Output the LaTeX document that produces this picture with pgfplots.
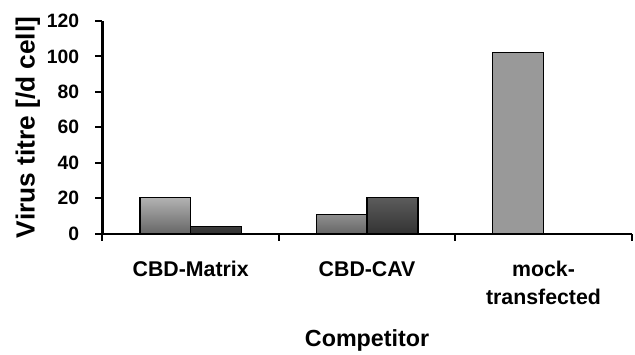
\documentclass[border=0pt]{standalone}
\usepackage{pgfplots}
\pgfplotsset{compat=1.18}
\usepackage{fontspec}
\setmainfont{Liberation Sans}
\definecolor{ltop}{gray}{0.70}
\definecolor{lbot}{gray}{0.40}
\definecolor{dtop}{gray}{0.36}
\definecolor{dbot}{gray}{0.20}
\definecolor{mockc}{gray}{0.60}
\begin{document}
\begin{tikzpicture}
\begin{axis}[
  name=ax,
  scale only axis, width=532bp, height=214bp,
  xmin=-0.5, xmax=2.5, ymin=0, ymax=120,
  axis lines=left, axis line style={line width=2.2pt, -},
  ytick={0,20,...,120},
  xtick={-0.5,0.5,1.5,2.5}, xticklabels={},
  extra x ticks={0,1,2},
  extra x tick labels={CBD-Matrix,CBD-CAV,{mock-\\transfected}},
  extra x tick style={major tick length=0pt},
  xticklabel style={align=center, font=\bfseries\fontsize{21.5}{28.5}\selectfont, yshift=-24bp},
  yticklabel style={font=\bfseries\fontsize{19.5}{22}\selectfont, xshift=-13bp},
  /pgf/number format/assume math mode=true,
  tick align=outside, major tick length=7bp,
  tick style={line width=2pt, black},
  xlabel={Competitor}, ylabel={Virus titre [/d cell]},
  xlabel style={font=\bfseries\fontsize{23.5}{26}\selectfont, yshift=-11bp},
  ylabel style={font=\bfseries\fontsize{26.5}{28}\selectfont, yshift=0bp},
  ybar, bar width=0.288,
]
\addplot[ybar, bar shift=-0.144, draw=black, line width=1.3pt, top color=ltop, bottom color=lbot, middle color=ltop!50!lbot] coordinates {(0,20.5) (1,11)};
\addplot[ybar, bar shift=0.144, draw=black, line width=1.3pt, top color=dtop, bottom color=dbot, middle color=dtop!50!dbot] coordinates {(0,4) (1,20.5)};
\addplot[ybar, bar shift=-0.144, draw=black, line width=1.3pt, fill=mockc] coordinates {(2,102)};
\end{axis}
\path (ax.south west) ++(-103bp,-117bp);
\path (ax.north west) ++(0,21bp);
\end{tikzpicture}
\end{document}
